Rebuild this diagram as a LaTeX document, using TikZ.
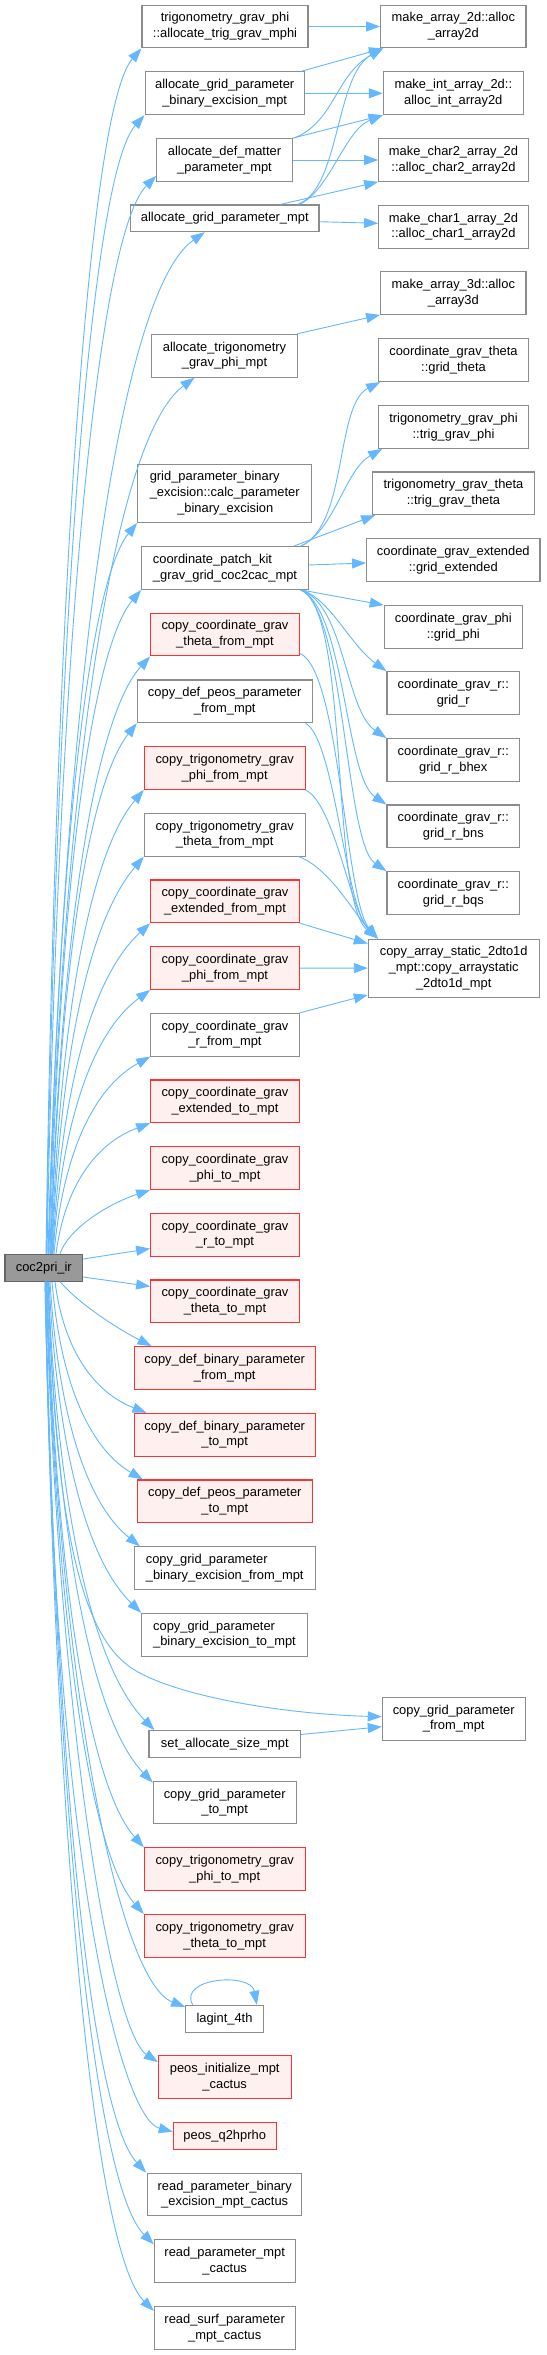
\documentclass[tikz,border=0pt]{standalone}
\usepackage{fontspec}
\setmainfont{Liberation Sans}
\usetikzlibrary{arrows.meta}
\definecolor{edgec}{HTML}{63B8FF}
\definecolor{nodeb}{HTML}{8C8C8C}
\definecolor{redb}{HTML}{FF3030}
\definecolor{redf}{HTML}{FFF0F0}
\definecolor{rootf}{HTML}{999999}
\definecolor{rootb}{HTML}{666666}
\begin{document}
\begin{tikzpicture}[x=1pt,y=-1pt,
 box/.style={draw=nodeb, fill=white, line width=1.1pt, inner sep=0pt, align=center,
   minimum height=42.7pt, font=\fontsize{12.9}{15.7}\selectfont},
 redbox/.style={box, draw=redb, fill=redf},
 rootbox/.style={box, draw=rootb, fill=rootf},
 one/.style={minimum height=26.7pt},
 three/.style={minimum height=58.3pt},
 edge/.style={draw=edgec, line width=0.9pt, -{Triangle[length=14pt,width=10pt]}}]
\useasboundingbox (0,0) rectangle (546,2355);
\fill[white] (0,0) rectangle (546,2355);

% right column
\node[box, minimum width=145.3pt] (mk2d) at (453.3,26.5) {make\_array\_2d::alloc\\\_array2d};
\node[box, minimum width=140pt] (mkint) at (453.3,93.3) {make\_int\_array\_2d::\\alloc\_int\_array2d};
\node[box, minimum width=149.6pt] (mkc2) at (453.5,160) {make\_char2\_array\_2d\\::alloc\_char2\_array2d};
\node[box, minimum width=149.6pt] (mkc1) at (453.5,226.7) {make\_char1\_array\_2d\\::alloc\_char1\_array2d};
\node[box, minimum width=145.3pt] (mk3d) at (453.3,293) {make\_array\_3d::alloc\\\_array3d};
\node[box, minimum width=149.6pt] (cgt) at (453.5,360.2) {coordinate\_grav\_theta\\::grid\_theta};
\node[box, minimum width=149.6pt] (tgp) at (453.5,427) {trigonometry\_grav\_phi\\::trig\_grav\_phi};
\node[box, minimum width=161.6pt] (tgt) at (453.5,493.3) {trigonometry\_grav\_theta\\::trig\_grav\_theta};
\node[box, minimum width=173.3pt] (cge) at (453.3,560) {coordinate\_grav\_extended\\::grid\_extended};
\node[box, minimum width=138pt] (cgp) at (453.3,627) {coordinate\_grav\_phi\\::grid\_phi};
\node[box, minimum width=132.7pt] (cgr) at (453.3,693) {coordinate\_grav\_r::\\grid\_r};
\node[box, minimum width=132.7pt] (cgrb) at (453.3,760) {coordinate\_grav\_r::\\grid\_r\_bhex};
\node[box, minimum width=132.7pt] (cgrn) at (453.3,826.3) {coordinate\_grav\_r::\\grid\_r\_bns};
\node[box, minimum width=132.7pt] (cgrq) at (453.3,893) {coordinate\_grav\_r::\\grid\_r\_bqs};
\node[box, three, minimum width=170.7pt] (cas) at (453.7,968.2) {copy\_array\_static\_2dto1d\\\_mpt::copy\_arraystatic\\\_2dto1d\_mpt};
\node[box, minimum width=142.7pt] (cgpf) at (453.7,1718.7) {copy\_grid\_parameter\\\_from\_mpt};

% middle column
\node[box, minimum width=166pt] (atgm) at (225,26.5) {trigonometry\_grav\_phi\\::allocate\_trig\_grav\_mphi};
\node[box, minimum width=159.3pt] (agpbe) at (224.7,93.3) {allocate\_grid\_parameter\\\_binary\_excision\_mpt};
\node[box, minimum width=135.6pt] (admp) at (224.5,160) {allocate\_def\_matter\\\_parameter\_mpt};
\node[box, one, minimum width=188.3pt] (agp) at (224.8,218.3) {allocate\_grid\_parameter\_mpt};
\node[box, minimum width=145.6pt] (atgpm) at (224.5,355.8) {allocate\_trigonometry\\\_grav\_phi\_mpt};
\node[box, three, minimum width=174pt, align=left] (gpbe) at (224.7,493.2) {grid\_parameter\_binary\\\_excision::calc\_parameter\\\hspace*{27.5pt}\_binary\_excision};
\node[box, minimum width=166.6pt, align=left] (cpk) at (225,568) {coordinate\_patch\_kit\\\_grav\_grid\_coc2cac\_mpt};
\node[redbox, minimum width=148.6pt] (ccgtf) at (225,634.5) {copy\_coordinate\_grav\\\_theta\_from\_mpt};
\node[box, minimum width=174.7pt] (cdppf) at (224.7,701.3) {copy\_def\_peos\_parameter\\\_from\_mpt};
\node[redbox, minimum width=160.7pt] (ctgpf) at (224.7,768) {copy\_trigonometry\_grav\\\_phi\_from\_mpt};
\node[box, minimum width=160.7pt] (ctgtf) at (224.7,834.7) {copy\_trigonometry\_grav\\\_theta\_from\_mpt};
\node[redbox, minimum width=148.6pt] (ccgef) at (225,901.3) {copy\_coordinate\_grav\\\_extended\_from\_mpt};
\node[redbox, minimum width=148.6pt] (ccgpf) at (225,968) {copy\_coordinate\_grav\\\_phi\_from\_mpt};
\node[box, minimum width=148.6pt] (ccgrf) at (225,1034.7) {copy\_coordinate\_grav\\\_r\_from\_mpt};
\node[redbox, minimum width=148.6pt] (ccget) at (225,1101.3) {copy\_coordinate\_grav\\\_extended\_to\_mpt};
\node[redbox, minimum width=148.6pt] (ccgpt) at (225,1168) {copy\_coordinate\_grav\\\_phi\_to\_mpt};
\node[redbox, minimum width=148.6pt] (ccgrt) at (225,1234.7) {copy\_coordinate\_grav\\\_r\_to\_mpt};
\node[redbox, minimum width=148.6pt] (ccgtt) at (225,1301.3) {copy\_coordinate\_grav\\\_theta\_to\_mpt};
\node[redbox, minimum width=181.3pt] (cdbpf) at (224.7,1368) {copy\_def\_binary\_parameter\\\_from\_mpt};
\node[redbox, minimum width=181.3pt] (cdbpt) at (224.7,1434.7) {copy\_def\_binary\_parameter\\\_to\_mpt};
\node[redbox, minimum width=175pt] (cdppt) at (224.8,1501.3) {copy\_def\_peos\_parameter\\\_to\_mpt};
\node[box, minimum width=180.7pt, align=left] (cgpbef) at (224.7,1568) {copy\_grid\_parameter\\\_binary\_excision\_from\_mpt};
\node[box, minimum width=165.6pt, align=left] (cgpbet) at (224.5,1634.7) {copy\_grid\_parameter\\\_binary\_excision\_to\_mpt};
\node[box, one, minimum width=151.7pt] (sasm) at (224.8,1744) {set\_allocate\_size\_mpt};
\node[box, minimum width=142.7pt] (cgpt) at (224.7,1802.5) {copy\_grid\_parameter\\\_to\_mpt};
\node[redbox, minimum width=160.7pt] (ctgpt) at (224.7,1869.2) {copy\_trigonometry\_grav\\\_phi\_to\_mpt};
\node[redbox, minimum width=160.7pt] (ctgtt) at (224.7,1935.8) {copy\_trigonometry\_grav\\\_theta\_to\_mpt};
\node[box, one, minimum width=77.6pt] (lag) at (224.5,2018.7) {lagint\_4th};
\node[redbox, minimum width=132.7pt] (peosi) at (224.7,2077) {peos\_initialize\_mpt\\\_cactus};
\node[redbox, one, minimum width=102.7pt] (peosq) at (224.7,2135.7) {peos\_q2hprho};
\node[box, minimum width=154pt] (rpbe) at (224.7,2194.5) {read\_parameter\_binary\\\_excision\_mpt\_cactus};
\node[box, minimum width=140.7pt] (rpm) at (224.7,2261.2) {read\_parameter\_mpt\\\_cactus};
\node[box, minimum width=140.7pt] (rspm) at (224.7,2327.8) {read\_surf\_parameter\\\_mpt\_cactus};

% root
\node[rootbox, one, minimum width=77.7pt] (root) at (43.8,1267.7) {coc2pri\_ir};

% root -> upper targets
\draw[edge] ([xshift=2.2pt]root.north) .. controls (55.6,590.7) and (89.2,108) .. (atgm.south west);
\draw[edge] ([xshift=2.7pt]root.north) .. controls (56.4,627.6) and (90.8,175) .. (agpbe.south west);
\draw[edge] ([xshift=3.2pt]root.north) .. controls (58,661) and (96.5,236) .. ([yshift=6pt]admp.south west);
\draw[edge] ([xshift=4.2pt]root.north) .. controls (63.7,692) and (118.6,292) .. ([xshift=-20pt]agp.south);
\draw[edge] ([xshift=4.7pt]root.north) .. controls (63.1,771.7) and (114.2,437) .. ([xshift=-30pt]atgpm.south);
\draw[edge] ([xshift=5.2pt]root.north) .. controls (57.9,851.4) and (89,582) .. (gpbe.south west);
\draw[edge] ([xshift=6.2pt]root.north) .. controls (59.2,888) and (91.4,649) .. (cpk.south west);
\draw[edge] ([xshift=6.7pt]root.north) .. controls (60.6,925) and (95.7,716) .. (ccgtf.south west);
\draw[edge] ([xshift=7.2pt]root.north) .. controls (59.6,961.7) and (89.8,782.7) .. (cdppf.south west);
\draw[edge] ([xshift=7.7pt]root.north) .. controls (60.8,998.3) and (93.3,849.3) .. (ctgpf.south west);
\draw[edge] ([xshift=8.2pt]root.north) .. controls (61.2,1035) and (93.5,916) .. (ctgtf.south west);
\draw[edge] ([xshift=8.7pt]root.north) .. controls (62.3,1071.7) and (96.7,972.4) .. (ccgef.south west);
\draw[edge] ([xshift=9.2pt]root.north) .. controls (62.8,1108.4) and (97,1029) .. (ccgpf.south west);
\draw[edge] ([xshift=10.2pt]root.north) .. controls (63.7,1145.1) and (97.5,1085.7) .. (ccgrf.south west);
\draw[edge] ([xshift=12.2pt]root.north) .. controls (65.5,1181.8) and (98.6,1142.4) .. (ccget.south west);
\draw[edge] ([xshift=16.2pt]root.north) .. controls (68,1230) and (105,1205) .. (ccgpt.south west);
\draw[edge] ([yshift=8.7pt]root.east) -- ([yshift=8pt]ccgrt.south west);

% root -> lower targets
\draw[edge] ([yshift=-9.3pt]root.east) -- ([yshift=-7pt]ccgtt.north west);
\draw[edge] ([xshift=16.2pt]root.south) .. controls (80,1305) and (120,1330) .. ([xshift=18pt]cdbpf.north west);
\draw[edge] ([xshift=11.2pt]root.south) .. controls (64.2,1353.6) and (96.4,1393.2) .. ([xshift=13pt]cdbpt.north west);
\draw[edge] ([xshift=8.2pt]root.south) .. controls (61.1,1390.5) and (93.1,1450.2) .. ([xshift=6pt]cdppt.north west);
\draw[edge] ([xshift=6.2pt]root.south) .. controls (59,1427.1) and (90.6,1506.8) .. ([xshift=6pt]cgpbef.north west);
\draw[edge] ([xshift=5.2pt]root.south) .. controls (58.3,1463.8) and (90.7,1563.5) .. (cgpbet.north west);
\draw[edge] ([xshift=4.7pt]root.south) .. controls (55,1540) and (85,1635) .. (130,1667) .. controls (170,1695) and (280,1714) .. ([yshift=2pt]cgpf.west);
\draw[edge] ([xshift=4.2pt]root.south) .. controls (58.7,1528.3) and (96.2,1670.7) .. ([xshift=6pt]sasm.north west);
\draw[edge] ([xshift=3.7pt]root.south) .. controls (58.1,1557.1) and (95.1,1723) .. ([yshift=-2pt]cgpt.north west);
\draw[edge] ([xshift=3.2pt]root.south) .. controls (56.7,1592.7) and (90.8,1787.7) .. (ctgpt.north west);
\draw[edge] ([xshift=2.7pt]root.south) .. controls (56.3,1629.3) and (90.5,1854.3) .. (ctgtt.north west);
\draw[edge] ([xshift=2.2pt]root.south) .. controls (60,1700) and (120,1982) .. ([yshift=-2pt]lag.north west);
\draw[edge] ([xshift=2.2pt]root.south) .. controls (57.2,1711) and (110,2030) .. ([yshift=-7pt]peosi.north west);
\draw[edge] ([xshift=1.7pt]root.south) .. controls (52,1850) and (120,2118) .. ([yshift=4pt]peosq.west);
\draw[edge] ([xshift=1.7pt]root.south) .. controls (55.6,1771.8) and (91,2113.3) .. ([xshift=-1pt]rpbe.north west);
\draw[edge] ([xshift=1.2pt]root.south) .. controls (55.9,1811.2) and (94.2,2185) .. ([yshift=-5pt]rpm.north west);
\draw[edge] ([xshift=1.2pt]root.south) .. controls (55.9,1847.9) and (94.2,2251.7) .. ([yshift=-5pt]rspm.north west);

% middle -> right (top block)
\draw[edge] (atgm) -- (mk2d);
\draw[edge] ([xshift=-4pt]agpbe.north east) -- ([xshift=3pt]mk2d.south west);
\draw[edge] (agpbe) -- (mkint);
\draw[edge] ([xshift=1pt]admp.north east) .. controls (335,122) and (335,75) .. ([xshift=3pt]mk2d.south west);
\draw[edge] (admp.north east) -- (mkint.south west);
\draw[edge] (admp) -- (mkc2);
\draw[edge] ([xshift=-22pt]agp.north east) .. controls (340,190) and (335,75) .. ([xshift=3pt]mk2d.south west);
\draw[edge] ([xshift=-20pt]agp.north east) .. controls (330,190) and (345,130) .. (mkint.south west);
\draw[edge] ([xshift=-39pt]agp.north east) -- (mkc2.south west);
\draw[edge] ([yshift=-3.4pt]agp.east) -- ([yshift=3.4pt]mkc1.west);
\draw[edge] ([xshift=-1pt]atgpm.north east) -- (mk3d.south west);

% coordinate_patch_kit
\draw[edge] ([xshift=-8pt]cpk.north east) .. controls (348,525) and (335,405) .. ([xshift=2pt]cgt.south west);
\draw[edge] ([xshift=-8pt]cpk.north east) .. controls (335,530) and (345,470) .. ([xshift=4pt]tgp.south west);
\draw[edge] ([xshift=-15pt]cpk.north east) -- ([xshift=3pt]tgt.south west);
\draw[edge] ([yshift=3pt]cpk.east) -- ([yshift=-3pt]cge.west);
\draw[edge] ([xshift=-8pt]cpk.south east) -- (cgp.north west);
\draw[edge] ([xshift=-8pt]cpk.south east) .. controls (330,598) and (350,645) .. (cgr.north west);
\draw[edge] ([xshift=-8pt]cpk.south east) .. controls (345,605) and (345,710) .. (cgrb.north west);
\draw[edge] ([xshift=-8pt]cpk.south east) .. controls (345,610) and (345,777) .. (cgrn.north west);
\draw[edge] ([xshift=-8pt]cpk.south east) .. controls (345,610) and (345,843) .. (cgrq.north west);
\draw[edge] ([xshift=-8pt]cpk.south east) .. controls (350,610) and (330,900) .. ([xshift=10pt]cas.north west);

% copies -> copy_array_static
\draw[edge] ([yshift=3pt]ccgtf.south east) .. controls (340,670) and (345,900) .. ([xshift=10pt]cas.north west);
\draw[edge] ([xshift=-7pt]cdppf.south east) .. controls (335,740) and (345,905) .. ([xshift=10pt]cas.north west);
\draw[edge] (ctgpf.south east) .. controls (335,805) and (350,910) .. ([xshift=10pt]cas.north west);
\draw[edge] ([xshift=-7pt]ctgtf.south east) .. controls (330,868) and (355,915) .. ([xshift=10pt]cas.north west);
\draw[edge] (ccgef.south east) -- ([yshift=-5pt]cas.north west);
\draw[edge] (ccgpf) -- (cas);
\draw[edge] (ccgrf.north east) -- ([yshift=3pt]cas.south west);

% set_allocate_size -> copy_grid_parameter_from_mpt
\draw[edge] ([yshift=-4.3pt]sasm.north east) -- ([yshift=-8pt]cgpf.west);

% self loop
\draw[edge] ([xshift=7.5pt]lag.north west) .. controls +(-15,-27) and +(-6,-33) .. ([xshift=-7pt]lag.north east);
\end{tikzpicture}
\end{document}
